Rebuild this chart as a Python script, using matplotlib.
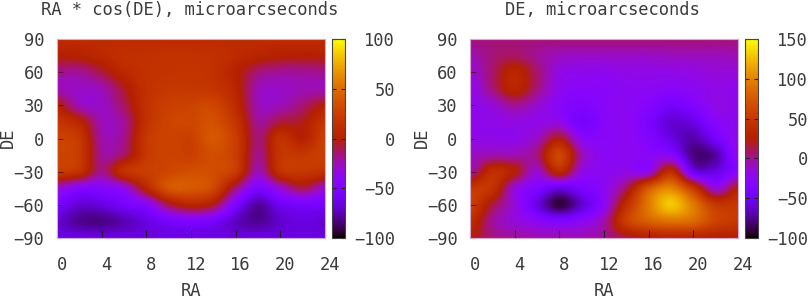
import matplotlib
matplotlib.use("Agg")
import matplotlib.pyplot as plt
from matplotlib.transforms import ScaledTranslation
import numpy as np

W = 809
H = 300
ra_ticks = [0, 4, 8, 12, 16, 20, 24]
de_ticks = [-90, -60, -30, 0, 30, 60, 90]

# rows go from DE = 90 down to DE = -90 in steps of 15, columns RA = 0..24 in steps of 2
ra_values = [
    [10, 10, 10, 10, 10, 10, 10, 10, 10, 10, 10, 10, 10],
    [0, 2, 8, 14, 15, 16, 16, 15, 10, 5, 1, 0, 0],
    [-18, -20, -8, 8, 15, 17, 18, 15, 3, -15, -20, -20, -18],
    [-25, -28, -25, -5, 15, 20, 20, 18, 6, -25, -28, -25, -25],
    [0, -25, -28, -12, 15, 25, 28, 30, 10, -25, -25, -15, 0],
    [18, 5, -25, -20, 15, 28, 30, 36, 18, -20, -8, -3, 18],
    [28, 20, -22, -18, 20, 28, 26, 40, 24, -15, 15, 2, 25],
    [28, 22, -20, -12, 20, 28, 26, 34, 24, -18, 18, 20, 25],
    [22, 15, -18, 15, 24, 30, 35, 34, 22, -25, 15, 20, 15],
    [-30, -45, -45, -35, 5, 38, 40, 30, -15, -50, -30, -10, -30],
    [-55, -68, -66, -55, -45, -10, 5, -5, -50, -78, -60, -55, -55],
    [-68, -80, -82, -75, -65, -55, -50, -55, -72, -80, -70, -65, -68],
    [-65, -65, -65, -65, -65, -65, -65, -65, -65, -65, -65, -65, -65],
]
de_values = [
    [5, 5, 5, 5, 5, 5, 5, 5, 5, 5, 5, 5, 5],
    [-6, 5, 10, 0, -8, -10, -10, -10, -10, -8, -8, -8, -6],
    [-15, 8, 32, 8, -18, -22, -22, -20, -20, -20, -18, -15, -15],
    [-22, 5, 32, 5, -22, -28, -28, -25, -25, -28, -25, -20, -22],
    [-22, -15, 0, -12, -28, -35, -28, -25, -32, -45, -35, -20, -22],
    [-22, -20, -18, -20, -20, -45, -30, -25, -40, -60, -55, -30, -22],
    [-20, -20, -20, -10, 22, -25, -28, -25, -35, -55, -70, -45, -20],
    [-10, -5, -5, 5, 62, -5, -25, -25, -28, -30, -78, -72, -22],
    [-5, 40, 25, -12, 35, -18, -25, -20, -20, 40, -50, -55, -30],
    [50, 45, -15, -35, -55, -40, -25, 10, 75, 100, 50, -15, 25],
    [58, 15, -15, -55, -90, -62, -25, 40, 95, 130, 95, 50, 50],
    [40, 0, -15, -25, -35, -25, -5, 55, 80, 90, 85, 60, 50],
    [25, 5, 0, -5, -5, -5, 0, 15, 25, 30, 30, 25, 25],
]
ra_cbar_ticks = [-100, -50, 0, 50, 100]
de_cbar_ticks = [-100, -50, 0, 50, 100, 150]

plt.rcParams['font.family'] = ['DejaVu Sans Mono']
plt.rcParams['font.size'] = 12.3
TEXT = '#3c3c3c'

fig = plt.figure(figsize=(W / 100, H / 100), dpi=100)


def px_axes(x0, y0, x1, y1):
    return fig.add_axes([x0 / W, 1 - y1 / H, (x1 - x0) / W, (y1 - y0) / H])


def panel(values, vmin, vmax, cbar_ticks, title, x0, title_x, label_x, de_x):
    ax = px_axes(x0, 39, x0 + 268, 238)
    im = ax.imshow(values, cmap='gnuplot', vmin=vmin, vmax=vmax, aspect='auto',
                   interpolation='catrom', extent=(-1, 25, -97.5, 97.5))
    ax.set_xlim(0, 24)
    ax.set_ylim(-90, 90)
    ax.set_xticks(ra_ticks)
    ax.set_yticks(de_ticks)
    ax.tick_params(axis='x', direction='in', length=6, width=0.8, color='#222222',
                   labelcolor=TEXT, pad=13)
    ax.tick_params(axis='y', direction='in', length=4, width=0.6, color='#55102a',
                   labelcolor=TEXT, pad=9)
    shift = ScaledTranslation(5 / 100, 0, fig.dpi_scale_trans)
    for lab in ax.get_xticklabels():
        lab.set_transform(lab.get_transform() + shift)
    for s in ax.spines.values():
        s.set_color('#d8a8d0')
        s.set_linewidth(0.8)

    cax = px_axes(x0 + 275, 39, x0 + 288, 238)
    cb = fig.colorbar(im, cax=cax)
    cb.set_ticks(cbar_ticks)
    cax.tick_params(direction='in', length=3, width=0.8, color='#222222', labelcolor=TEXT,
                    pad=36, left=True, right=True)
    for lab in cax.get_yticklabels():
        lab.set_ha('right')
    cb.outline.set_edgecolor('#444444')
    cb.outline.set_linewidth(0.8)

    fig.text(title_x / W, 1 - 10 / H, title, ha='center', va='center', color=TEXT)
    fig.text(label_x / W, 1 - 291 / H, 'RA', ha='center', va='center', color=TEXT)
    fig.text(de_x / W, 1 - 138 / H, 'DE', ha='center', va='center', rotation=90, color=TEXT)


panel(ra_values, -100, 100, ra_cbar_ticks, 'RA * cos(DE), microarcseconds', 57, 190, 191, 8)
panel(de_values, -100, 150, de_cbar_ticks, 'DE, microarcseconds', 470, 602, 604, 422)

fig.savefig('out.png', dpi=100)
